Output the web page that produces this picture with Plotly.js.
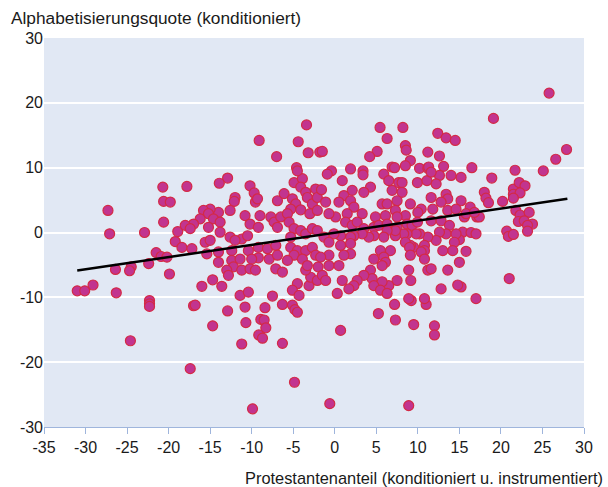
<!DOCTYPE html>
<html>
<head>
<meta charset="utf-8">
<script src="https://cdn.plot.ly/plotly-3.0.1.min.js"></script>
<style>html,body{margin:0;padding:0;background:#fff;}#chart{width:608px;height:487px;}</style>
</head>
<body>
<div id="chart"></div>
<script>
// Scatter data: Protestantenanteil (x) vs Alphabetisierungsquote (y), both conditioned
const xVals = [
-3.4,-9.1,-4.4,-7.0,-3.2,-1.8,-4.6,
5.45,8.2,6.3,-1.5,5.1,4.2,8.5,8.6,9.1,12.4,13.4,14.5,11.2,12.6,13.1,-0.4,1.9,3.4,6.9,7.2,8.5,10.2,11.2,11.3,
25.8,19.1,27.9,26.6,16.5,21.7,25.1,
-20.7,-20.6,-19.8,-27.3,-20.6,-27.1,-22.9,-18.9,-19.2,-21.5,-20.9,-20.2,-22.4,-24.5,-24.7,-26.4,-19.9,-29.1,-31.0,-30.1,-26.3,-22.3,
-22.3,-22.3,-24.6,
-17.0,-16.8,-12.9,-14.7,-10.7,-10.8,-8.4,-8.9,-8.5,-8.3,-9.15,-8.7,-11.2,-6.3,-17.4,-4.85,-9.9,-6.3,-5.1,-4.8,-4.5,
0.7,5.25,7.2,7.3,9.5,12.0,12.0,11.0,9.2,-0.6,8.9,
17.0,
18.9,15.2,18.0,18.2,18.5,20.2,21.5,22.2,22.9,21.5,22.3,21.5,21.8,22.3,23.4,22.1,22.8,23.8,23.2,23.2,20.7,20.9,21.5,21.0,15.8,15.2,16.3,15.6,17.1,17.4,15.8,16.8,15.4,16.4,17.0,15.0,15.2,
-12.9,-13.9,-17.8,-10.2,-9.7,-12.0,-12.1,-9.55,-9.3,-6.9,-6.1,-4.9,-3.9,-4.1,-4.5,-3.5,-3.3,-5.1,-4.7,-2.7,-2.3,-2.1,-5.3,-4.1,-3.0,-2.1,-12.6,-14.0,-15.0,-15.8,-15.2,-16.2,-14.6,-13.8,-17.0,-18.0,-17.4,-15.2,-13.8,-10.8,-10.2,-9.0,-9.2,-7.7,-7.3,-6.5,-5.7,-5.5,-6.9,-4.9,-4.1,-3.5,-2.7,-2.1,-12.6,-11.2,-10.5,-12.0,-15.6,-15.0,-18.4,-17.2,-15.4,-14.0,-12.4,-10.4,-9.2,-8.1,-7.1,-9.2,-10.0,-12.4,-11.4,-7.9,-6.9,-12.2,-11.2,-10.2,-9.55,-13.0,-12.8,-7.1,-6.3,-14.0,-14.7,-13.6,-16.0,-11.4,-10.4,-7.5,-4.5,-5.1,-4.3,-3.1,-2.9,-3.5,-2.1,-5.3,-5.3,-4.5,-3.5,-2.7,-4.9,-5.7,-3.9,-2.3,-3.3,-2.0,
-0.9,0.9,3.4,5.9,6.5,7.7,8.1,9.95,11.1,12.6,14.0,12.2,11.6,4.3,6.9,8.1,3.5,2.1,1.1,-1.6,-1.1,0.5,1.9,2.3,5.7,6.3,7.5,7.3,9.1,10.4,11.6,13.4,13.6,12.8,11.8,13.6,14.6,10.0,8.5,6.1,4.9,3.3,1.5,0.1,-0.7,1.3,2.1,2.7,3.5,4.7,5.3,6.3,7.5,7.5,8.7,9.3,9.95,11.6,12.8,13.8,13.4,12.6,14.6,14.4,14.2,13.0,12.2,11.2,10.2,9.8,8.7,8.3,10.8,10.8,9.5,9.1,8.5,7.3,7.3,6.3,5.9,4.7,4.1,3.3,2.3,1.9,0.7,-0.1,-1.3,-0.7,0.7,1.9,1.9,1.1,-0.7,-1.7,5.5,6.7,4.7,5.9,6.1,5.7,9.0,9.1,10.4,10.8,8.9,11.2,11.6,13.6,15.0,12.8,14.8,9.15,7.5,6.5,5.7,4.3,4.5,4.7,5.5,6.3,3.5,2.7,2.3,1.7,0.9,-1.5,-1.1,-0.7,0.5,0.3,8.9,10.8
];
const yVals = [
16.6,14.2,14.0,11.7,12.3,12.4,10.0,
16.2,16.2,14.5,12.5,12.5,11.7,13.4,12.7,11.1,15.3,14.6,14.2,12.4,11.8,10.2,9.5,9.8,9.5,10.1,10.0,10.3,9.9,9.9,10.1,
21.5,17.6,12.8,11.3,10.0,9.6,9.5,
7.0,4.8,4.7,3.4,1.6,-0.2,0.0,0.15,-1.4,-3.1,-3.7,-3.8,-4.8,-5.3,-5.9,-5.7,-6.4,-8.1,-9.0,-9.0,-9.3,-10.5,
-11.0,-11.4,-16.7,
-11.3,-11.2,-12.1,-14.4,-13.9,-11.5,-11.6,-13.4,-13.5,-14.7,-15.8,-16.3,-17.2,-17.1,-21.0,-23.1,-27.2,-11.1,-11.2,-11.9,-12.3,
-15.1,-12.5,-11.1,-13.5,-14.2,-14.4,-15.8,-11.1,-10.5,-26.4,-26.7,
-10.2,
8.4,8.5,6.2,5.3,4.6,4.8,6.7,7.7,7.2,5.9,6.1,5.3,3.4,2.7,3.1,1.7,1.8,1.3,1.1,0.2,0.2,-0.6,-0.3,-7.1,-2.9,-8.4,3.9,2.4,2.4,2.4,2.9,3.1,0.05,0.0,-0.2,-1.1,4.9,
8.4,7.6,7.1,7.2,6.1,5.4,4.8,4.7,5.2,4.9,6.0,7.7,8.3,7.0,9.5,6.2,5.4,5.2,4.4,4.4,6.7,5.4,3.6,3.5,2.9,3.4,3.4,3.1,3.6,3.4,2.9,2.1,2.1,1.6,1.3,1.1,0.6,0.8,0.05,2.6,1.3,2.6,0.8,2.4,1.6,2.4,2.9,1.6,0.8,0.6,0.3,-0.2,0.6,0.3,-0.7,-1.0,-0.5,-1.2,-1.5,-1.2,-2.3,-2.5,-3.3,-3.0,-2.8,-2.8,-2.3,-2.5,-2.0,-3.9,-4.1,-4.3,-4.1,-4.1,-3.5,-5.3,-5.8,-5.6,-5.8,-5.8,-6.6,-5.6,-6.1,-4.6,-7.3,-8.3,-8.3,-9.7,-9.2,-9.8,-7.9,-8.9,-9.7,-8.2,-6.9,-5.8,-7.4,-0.7,-2.3,-2.8,-2.8,-2.3,-3.5,-4.3,-4.1,-3.5,-5.1,-5.3,
9.0,8.0,8.9,9.0,8.0,7.7,7.7,7.7,8.0,8.8,8.8,7.5,9.3,7.0,6.5,6.2,6.2,6.5,5.7,6.6,4.7,4.7,4.9,3.9,4.4,4.4,4.9,3.4,4.4,3.6,5.4,5.9,5.2,4.7,3.6,3.4,3.6,3.1,2.6,2.6,2.4,2.9,2.9,2.4,2.9,1.6,1.1,1.6,0.6,0.8,1.1,1.3,0.8,2.4,1.3,1.1,1.6,1.8,1.8,1.1,-0.2,0.05,-0.2,-1.5,-2.8,-2.8,-1.2,-0.7,-0.2,-0.2,-0.2,-0.2,-2.0,-2.8,-2.3,-2.0,-1.5,-0.5,0.3,0.3,-0.7,-0.5,-0.7,-0.2,-0.5,-0.7,-0.5,-0.2,-0.7,-1.5,-2.0,-1.7,-3.3,-3.5,-3.5,-3.8,-2.8,-2.8,-4.1,-3.8,-4.6,-5.1,-2.3,-3.5,-3.0,-4.1,-5.8,-5.8,-5.6,-5.8,-4.6,-8.7,-8.1,-7.4,-7.4,-8.2,-7.6,-5.8,-7.1,-8.2,-8.9,-9.4,-6.6,-7.4,-8.2,-8.7,-7.4,-6.6,-7.4,-5.1,-5.1,-9.4,-10.2,-10.2
];
// Fitted regression line (end points)
const fitX = [-31, 28];
const fitY = [-5.85, 5.2];
// Axis ticks
const xTickVals = [-35,-30,-25,-20,-15,-10,-5,0,5,10,15,20,25,30];
const xTickText = ['-35','-30','-25','-20','-15','-10','-5','0','5','10','15','20','25','30'];
const yTickVals = [-30,-20,-10,0,10,20,30];
const yTickText = ['-30','-20','-10','0','10','20','30'];
const yTitle = 'Alphabetisierungsquote (konditioniert)';
const xTitle = 'Protestantenanteil (konditioniert u. instrumentiert)';

const FONT = 'Liberation Sans, Arial, Helvetica, sans-serif';
const W = 608, H = 487;
const m = {l: 44, r: 24, t: 38, b: 60};
const pw = W - m.l - m.r, ph = H - m.t - m.b;

const traces = [
  {
    type: 'scatter', mode: 'markers', x: xVals, y: yVals,
    marker: {size: 10, color: '#c2348f', line: {color: '#d42a45', width: 1.2}},
    hoverinfo: 'skip', showlegend: false
  },
  {
    type: 'scatter', mode: 'lines', x: fitX, y: fitY,
    line: {color: '#000000', width: 2.5}, hoverinfo: 'skip', showlegend: false
  }
];

const layout = {
  width: W, height: H,
  margin: m,
  paper_bgcolor: '#ffffff',
  plot_bgcolor: '#e1e8f4',
  font: {family: FONT, size: 16, color: '#1a1a1a'},
  showlegend: false,
  xaxis: {
    range: [-35, 30], tickmode: 'array', tickvals: xTickVals, ticktext: xTickText,
    showgrid: false, zeroline: false,
    showline: true, linecolor: '#9fb5dc', linewidth: 1,
    ticks: 'outside', ticklen: 6, tickcolor: '#9fb5dc', tickwidth: 1,
    tickfont: {family: FONT, size: 16, color: '#1a1a1a'}, fixedrange: true
  },
  yaxis: {
    range: [-30, 30], tickmode: 'array', tickvals: yTickVals, ticktext: yTickText,
    showgrid: true, gridcolor: '#ffffff', gridwidth: 2,
    zeroline: true, zerolinecolor: '#ffffff', zerolinewidth: 2,
    showline: false, ticks: '',
    tickfont: {family: FONT, size: 16, color: '#1a1a1a'}, fixedrange: true
  },
  annotations: [
    {
      text: yTitle, xref: 'paper', yref: 'paper',
      x: (9 - m.l) / pw, y: 1 + (m.t - 18) / ph, xanchor: 'left', yanchor: 'middle',
      showarrow: false, font: {family: FONT, size: 17.3, color: '#1a1a1a'}
    },
    {
      text: xTitle, xref: 'paper', yref: 'paper',
      x: (605 - m.l) / pw, y: -(478 - (H - m.b)) / ph, xanchor: 'right', yanchor: 'middle',
      showarrow: false, font: {family: FONT, size: 16.4, color: '#1a1a1a'}
    }
  ]
};

Plotly.newPlot('chart', traces, layout, {displayModeBar: false, staticPlot: true});
</script>
</body>
</html>
